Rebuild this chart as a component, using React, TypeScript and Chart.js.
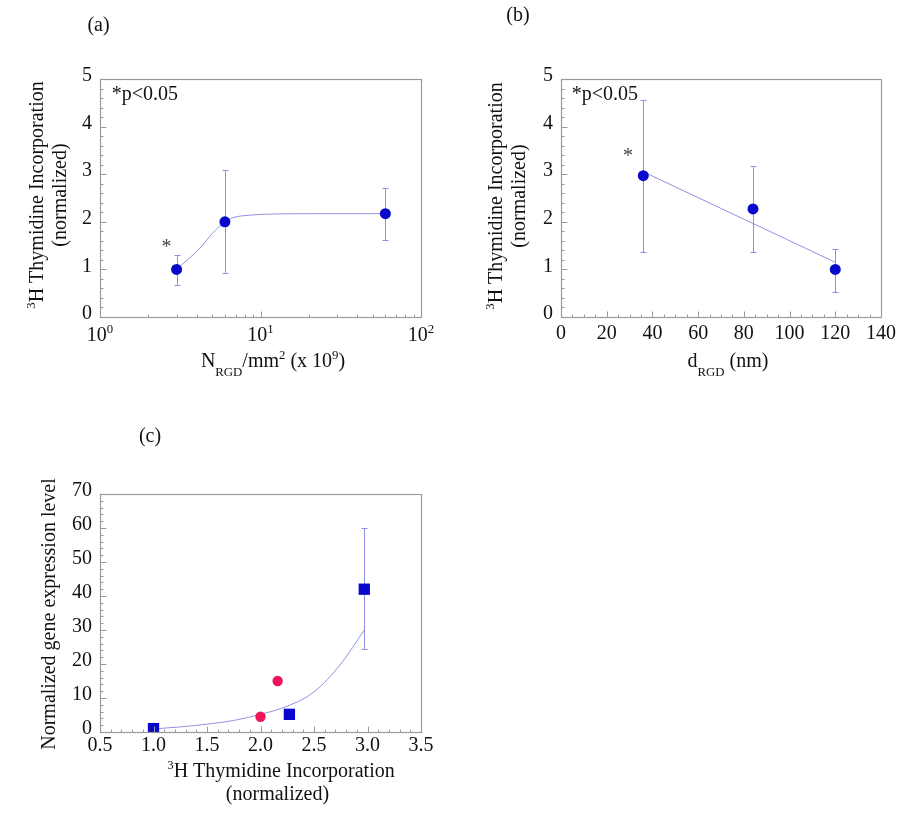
import React, { useEffect, useRef } from 'react';
import { Chart, registerables } from 'chart.js';

Chart.register(...registerables);

const FONT = '"Liberation Serif", "Times New Roman", serif';
const TEXT_COLOR = '#111111';
const FRAME_COLOR = '#9a9a9a';
const POINT_BLUE = '#0808cc';
const POINT_PINK = '#f0145a';
const LINE_COLOR = '#9090e2';

// ---------- Panel (a) ----------
const A_N_RGD = [3, 6, 60];
const A_THYMIDINE = [1.0, 2.0, 2.17];
const A_ERR_LOW = [0.68, 0.92, 1.62];
const A_ERR_HIGH = [1.3, 3.08, 2.7];
const A_FIT_X = [3, 4.2, 5, 6, 6.8, 8.6, 11, 20, 60];
const A_FIT_Y = [1.0, 1.45, 1.75, 2.0, 2.09, 2.14, 2.16, 2.17, 2.17];
const A_X_TICKS = [1, 10, 100];
const A_X_TICK_BASE = ['10', '10', '10'];
const A_X_TICK_EXP = ['0', '1', '2'];
const AB_Y_TICKS = [0, 1, 2, 3, 4, 5];
const AB_Y_TICK_LABELS = ['0', '1', '2', '3', '4', '5'];

// ---------- Panel (b) ----------
const B_D_RGD = [36, 84, 120];
const B_THYMIDINE = [2.97, 2.27, 1.0];
const B_ERR_LOW = [1.36, 1.36, 0.53];
const B_ERR_HIGH = [4.56, 3.18, 1.43];
const B_FIT_X = [36, 120];
const B_FIT_Y = [3.05, 1.15];
const B_X_TICKS = [0, 20, 40, 60, 80, 100, 120, 140];
const B_X_TICK_LABELS = ['0', '20', '40', '60', '80', '100', '120', '140'];

// ---------- Panel (c) ----------
const C_SQ_X = [1.0, 2.27, 2.97];
const C_SQ_Y = [1.0, 5.2, 42];
const C_SQ_ERR_LOW: (number | null)[] = [null, null, 24.3];
const C_SQ_ERR_HIGH: (number | null)[] = [null, null, 60];
const C_CI_X = [2.0, 2.16];
const C_CI_Y = [4.5, 15];
const C_FIT_X = [1.0, 1.25, 1.5, 1.75, 2.0, 2.25, 2.5, 2.75, 2.97];
const C_FIT_Y = [0.9, 1.5, 2.3, 3.4, 5.2, 7.6, 11.8, 20, 30];
const C_X_TICKS = [0.5, 1.0, 1.5, 2.0, 2.5, 3.0, 3.5];
const C_X_TICK_LABELS = ['0.5', '1.0', '1.5', '2.0', '2.5', '3.0', '3.5'];
const C_Y_TICKS = [0, 10, 20, 30, 40, 50, 60, 70];
const C_Y_TICK_LABELS = ['0', '10', '20', '30', '40', '50', '60', '70'];

type Kind = 'n' | 'sup' | 'sub';
type Part = [string, Kind];
interface TextItem {
  parts: Part[];
  x: number;
  y: number;
  align?: 'left' | 'center' | 'right';
  rotate?: boolean;
  size?: number;
  color?: string;
}
interface DataText { text: string; x: number; y: number; size?: number; color?: string; }
interface ErrBars { x: number[]; low: (number | null)[]; high: (number | null)[]; }
interface RichTicks { values: number[]; parts: Part[][]; baselineOffset: number; }
interface Decor {
  xMajor: number[];
  xMinor: number[];
  yMajor: number[];
  yMinor: number[];
  texts: TextItem[];
  dataTexts: DataText[];
  errs: ErrBars[];
  richX?: RichTicks;
}

function drawRich(ctx: CanvasRenderingContext2D, parts: Part[], x: number, y: number, size: number, align: string, color: string) {
  const small = size * 0.64;
  const widths: number[] = [];
  let total = 0;
  for (const [t, k] of parts) {
    ctx.font = `${k === 'n' ? size : small}px ${FONT}`;
    const w = ctx.measureText(t).width;
    widths.push(w);
    total += w;
  }
  let cur = align === 'center' ? x - total / 2 : align === 'right' ? x - total : x;
  ctx.fillStyle = color;
  ctx.textAlign = 'left';
  ctx.textBaseline = 'alphabetic';
  parts.forEach(([t, k], i) => {
    ctx.font = `${k === 'n' ? size : small}px ${FONT}`;
    const dy = k === 'sup' ? -size * 0.42 : k === 'sub' ? size * 0.45 : 0;
    ctx.fillText(t, cur, y + dy);
    cur += widths[i];
  });
}

function range(start: number, end: number, step: number): number[] {
  const out: number[] = [];
  for (let v = start; v <= end + step * 1e-6; v += step) out.push(Math.round(v * 1e6) / 1e6);
  return out;
}

function makeDecor(d: Decor) {
  return {
    id: 'decor',
    beforeDatasetsDraw(chart: any) {
      const ctx: CanvasRenderingContext2D = chart.ctx;
      const xs = chart.scales.x;
      const ys = chart.scales.y;
      ctx.save();
      ctx.strokeStyle = LINE_COLOR;
      ctx.lineWidth = 1;
      for (const e of d.errs) {
        e.x.forEach((xv, i) => {
          const lo = e.low[i];
          const hi = e.high[i];
          if (lo == null || hi == null) return;
          const px = Math.round(xs.getPixelForValue(xv)) + 0.5;
          const pl = Math.round(ys.getPixelForValue(lo)) + 0.5;
          const ph = Math.round(ys.getPixelForValue(hi)) + 0.5;
          ctx.beginPath();
          ctx.moveTo(px, pl);
          ctx.lineTo(px, ph);
          ctx.moveTo(px - 3, pl);
          ctx.lineTo(px + 3, pl);
          ctx.moveTo(px - 3, ph);
          ctx.lineTo(px + 3, ph);
          ctx.stroke();
        });
      }
      ctx.restore();
    },
    afterDraw(chart: any) {
      const ctx: CanvasRenderingContext2D = chart.ctx;
      const xs = chart.scales.x;
      const ys = chart.scales.y;
      const a = chart.chartArea;
      ctx.save();
      ctx.strokeStyle = FRAME_COLOR;
      ctx.lineWidth = 1.2;
      ctx.strokeRect(Math.round(a.left) + 0.5, Math.round(a.top) + 0.5, Math.round(a.right - a.left), Math.round(a.bottom - a.top));
      ctx.lineWidth = 1;
      ctx.beginPath();
      const bottom = Math.round(a.bottom) + 0.5;
      const left = Math.round(a.left) + 0.5;
      const xTick = (v: number, len: number) => {
        const px = Math.round(xs.getPixelForValue(v)) + 0.5;
        ctx.moveTo(px, bottom);
        ctx.lineTo(px, bottom - len);
      };
      const yTick = (v: number, len: number) => {
        const py = Math.round(ys.getPixelForValue(v)) + 0.5;
        ctx.moveTo(left, py);
        ctx.lineTo(left + len, py);
      };
      d.xMinor.forEach((v) => xTick(v, 3));
      d.xMajor.forEach((v) => xTick(v, 6));
      d.yMinor.forEach((v) => yTick(v, 3));
      d.yMajor.forEach((v) => yTick(v, 6));
      ctx.stroke();

      if (d.richX) {
        d.richX.values.forEach((v, i) => {
          drawRich(ctx, d.richX!.parts[i], xs.getPixelForValue(v), a.bottom + d.richX!.baselineOffset, 20, 'center', TEXT_COLOR);
        });
      }

      for (const t of d.texts) {
        const size = t.size ?? 20;
        const color = t.color ?? TEXT_COLOR;
        if (t.rotate) {
          ctx.save();
          ctx.translate(t.x, t.y);
          ctx.rotate(-Math.PI / 2);
          drawRich(ctx, t.parts, 0, 0, size, t.align ?? 'center', color);
          ctx.restore();
        } else {
          drawRich(ctx, t.parts, t.x, t.y, size, t.align ?? 'center', color);
        }
      }
      for (const t of d.dataTexts) {
        const size = t.size ?? 20;
        ctx.font = `${size}px ${FONT}`;
        ctx.fillStyle = t.color ?? '#444';
        ctx.textAlign = 'center';
        ctx.textBaseline = 'alphabetic';
        ctx.fillText(t.text, xs.getPixelForValue(t.x), ys.getPixelForValue(t.y) + size * 0.53);
      }
      ctx.restore();
    },
  };
}

const tickFont = { family: FONT, size: 20 };

function xy(xsArr: number[], ysArr: number[]) {
  return xsArr.map((x, i) => ({ x, y: ysArr[i] }));
}

function axis(opts: any) {
  const { type, min, max, ticks, labels, padding, labelOffset, fit, isX, hideLabels } = opts;
  return {
    type,
    min,
    max,
    afterBuildTicks: (s: any) => {
      s.ticks = ticks.map((v: number) => ({ value: v }));
    },
    ticks: {
      display: !hideLabels,
      callback: (_v: any, i: number) => (labels ? labels[i] : ''),
      autoSkip: false,
      maxRotation: 0,
      minRotation: 0,
      padding,
      labelOffset: labelOffset ?? 0,
      font: tickFont,
      color: TEXT_COLOR,
    },
    grid: { display: false, drawTicks: false },
    border: { display: false },
    afterFit: (s: any) => {
      if (isX) s.height = fit;
      else s.width = fit;
    },
  };
}

function baseOptions(padding: any, xAxis: any, yAxis: any) {
  return {
    responsive: false,
    animation: false as const,
    devicePixelRatio: 1,
    layout: { padding },
    plugins: { legend: { display: false }, tooltip: { enabled: false } },
    scales: { x: xAxis, y: yAxis },
  };
}

function configA() {
  const decor: Decor = {
    xMajor: A_X_TICKS,
    xMinor: [...range(2, 9, 1), ...range(20, 90, 10)],
    yMajor: AB_Y_TICKS,
    yMinor: range(0, 5, 0.2),
    errs: [{ x: A_N_RGD, low: A_ERR_LOW, high: A_ERR_HIGH }],
    dataTexts: [{ text: '*', x: 2.6, y: 1.57 }],
    richX: {
      values: A_X_TICKS,
      parts: A_X_TICKS.map((_, i) => [[A_X_TICK_BASE[i], 'n'], [A_X_TICK_EXP[i], 'sup']] as Part[]),
      baselineOffset: 24,
    },
    texts: [
      { parts: [['(a)', 'n']], x: 98.5, y: 31 },
      { parts: [['*p<0.05', 'n']], x: 111.7, y: 99.5, align: 'left' },
      { parts: [['N', 'n'], ['RGD', 'sub'], ['/mm', 'n'], ['2', 'sup'], [' (x 10', 'n'], ['9', 'sup'], [')', 'n']], x: 273, y: 367 },
      { parts: [['3', 'sup'], ['H Thymidine Incorporation', 'n']], x: 43, y: 195, rotate: true },
      { parts: [['(normalized)', 'n']], x: 66, y: 195, rotate: true },
    ],
  };
  return {
    type: 'scatter' as const,
    data: {
      datasets: [
        { data: xy(A_N_RGD, A_THYMIDINE), backgroundColor: POINT_BLUE, borderWidth: 0, pointRadius: 5.5 },
        { data: xy(A_FIT_X, A_FIT_Y), showLine: true, borderColor: LINE_COLOR, borderWidth: 1, pointRadius: 0, cubicInterpolationMode: 'monotone' },
      ],
    },
    options: baseOptions(
      { left: 0, top: 79, right: 33, bottom: 53 },
      axis({ type: 'logarithmic', min: 1, max: 100, ticks: A_X_TICKS, labels: null, hideLabels: true, padding: 5, fit: 40, isX: true }),
      axis({ type: 'linear', min: 0, max: 5, ticks: AB_Y_TICKS, labels: AB_Y_TICK_LABELS, padding: 8, labelOffset: -3, fit: 100, isX: false })
    ),
    plugins: [makeDecor(decor)],
  };
}

function configB() {
  const decor: Decor = {
    xMajor: B_X_TICKS,
    xMinor: range(0, 140, 5),
    yMajor: AB_Y_TICKS,
    yMinor: range(0, 5, 0.2),
    errs: [{ x: B_D_RGD, low: B_ERR_LOW, high: B_ERR_HIGH }],
    dataTexts: [{ text: '*', x: 29.3, y: 3.47 }],
    texts: [
      { parts: [['(b)', 'n']], x: 64, y: 21 },
      { parts: [['*p<0.05', 'n']], x: 117.7, y: 99.5, align: 'left' },
      { parts: [['d', 'n'], ['RGD', 'sub'], [' (nm)', 'n']], x: 274, y: 367 },
      { parts: [['3', 'sup'], ['H Thymidine Incorporation', 'n']], x: 48, y: 196, rotate: true },
      { parts: [['(normalized)', 'n']], x: 71, y: 196, rotate: true },
    ],
  };
  return {
    type: 'scatter' as const,
    data: {
      datasets: [
        { data: xy(B_D_RGD, B_THYMIDINE), backgroundColor: POINT_BLUE, borderWidth: 0, pointRadius: 5.5 },
        { data: xy(B_FIT_X, B_FIT_Y), showLine: true, borderColor: LINE_COLOR, borderWidth: 1, pointRadius: 0 },
      ],
    },
    options: baseOptions(
      { left: 0, top: 79, right: 27, bottom: 53 },
      axis({ type: 'linear', min: 0, max: 140, ticks: B_X_TICKS, labels: B_X_TICK_LABELS, padding: 5, fit: 40, isX: true }),
      axis({ type: 'linear', min: 0, max: 5, ticks: AB_Y_TICKS, labels: AB_Y_TICK_LABELS, padding: 8, labelOffset: -3, fit: 107, isX: false })
    ),
    plugins: [makeDecor(decor)],
  };
}

function configC() {
  const decor: Decor = {
    xMajor: C_X_TICKS,
    xMinor: range(0.5, 3.5, 0.1),
    yMajor: C_Y_TICKS,
    yMinor: range(0, 70, 2),
    errs: [{ x: C_SQ_X, low: C_SQ_ERR_LOW, high: C_SQ_ERR_HIGH }],
    dataTexts: [],
    texts: [
      { parts: [['(c)', 'n']], x: 150, y: 32 },
      { parts: [['Normalized gene expression level', 'n']], x: 55, y: 204, rotate: true },
      { parts: [['3', 'sup'], ['H Thymidine Incorporation', 'n']], x: 281, y: 367 },
      { parts: [['(normalized)', 'n']], x: 277.5, y: 390 },
    ],
  };
  return {
    type: 'scatter' as const,
    data: {
      datasets: [
        { data: xy(C_SQ_X, C_SQ_Y), backgroundColor: POINT_BLUE, borderWidth: 0, pointRadius: 8, pointStyle: 'rect' },
        { data: xy(C_CI_X, C_CI_Y), backgroundColor: POINT_PINK, borderWidth: 0, pointRadius: 5.2 },
        { data: xy(C_FIT_X, C_FIT_Y), showLine: true, borderColor: LINE_COLOR, borderWidth: 1, pointRadius: 0, cubicInterpolationMode: 'monotone' },
      ],
    },
    options: baseOptions(
      { left: 0, top: 84, right: 33, bottom: 44 },
      axis({ type: 'linear', min: 0.5, max: 3.5, ticks: C_X_TICKS, labels: C_X_TICK_LABELS, padding: 2, fit: 40, isX: true }),
      axis({ type: 'linear', min: 0, max: 70, ticks: C_Y_TICKS, labels: C_Y_TICK_LABELS, padding: 8, labelOffset: -3, fit: 100, isX: false })
    ),
    plugins: [makeDecor(decor)],
  };
}

function Panel({ left, top, width, height, make }: { left: number; top: number; width: number; height: number; make: () => any }) {
  const ref = useRef<HTMLCanvasElement | null>(null);
  useEffect(() => {
    if (!ref.current) return;
    const chart = new Chart(ref.current, make());
    return () => chart.destroy();
  }, []);
  return (
    <canvas
      ref={ref}
      width={width}
      height={height}
      style={{ position: 'absolute', left, top, width, height }}
    />
  );
}

export default function App() {
  return (
    <div style={{ position: 'absolute', left: 0, top: 0, width: 908, height: 816, background: '#ffffff' }}>
      <Panel left={0} top={0} width={454} height={410} make={configA} />
      <Panel left={454} top={0} width={454} height={410} make={configB} />
      <Panel left={0} top={410} width={454} height={406} make={configC} />
    </div>
  );
}
